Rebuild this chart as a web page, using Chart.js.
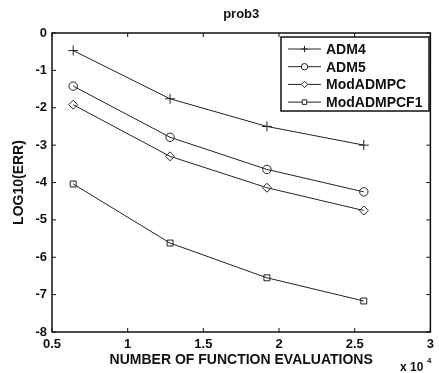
<!DOCTYPE html>
<html>
<head>
<meta charset="utf-8">
<script src="https://cdn.jsdelivr.net/npm/chart.js@4"></script>
<style>
  html, body { margin: 0; padding: 0; background: #fff; }
  #wrap { width: 439px; height: 373px; }
</style>
</head>
<body>
<div id="wrap"><canvas id="chart" width="439" height="373"></canvas></div>
<script>
// function evaluations
const evals = [6400, 12800, 19200, 25600];
const adm4 = [-0.47, -1.76, -2.5, -3.0];
const adm5 = [-1.42, -2.79, -3.65, -4.25];
const modAdmpc = [-1.92, -3.3, -4.14, -4.75];
const modAdmpcf1 = [-4.04, -5.62, -6.55, -7.17];
const xTicks = [5000, 10000, 15000, 20000, 25000, 30000];
const yTicks = [0, -1, -2, -3, -4, -5, -6, -7, -8];

const FONT = 'Liberation Sans, Arial, sans-serif';
const ink = '#222';

function series(label, ys, style, r) {
  return {
    label: label,
    data: evals.map((x, i) => ({ x: x, y: ys[i] })),
    borderColor: ink,
    borderWidth: 1,
    pointStyle: style,
    pointRadius: r,
    pointBorderColor: ink,
    pointBackgroundColor: 'rgba(0,0,0,0)',
    pointBorderWidth: 1,
    showLine: true,
    fill: false,
    tension: 0
  };
}

// frame, inward ticks, titles and legend box
const decor = {
  id: 'decor',
  afterDraw(chart) {
    const c = chart.ctx;
    const a = chart.chartArea;
    const xs = chart.scales.x, ys = chart.scales.y;
    c.save();
    c.strokeStyle = '#111';
    c.lineWidth = 1.5;
    c.strokeRect(a.left, a.top, a.right - a.left, a.bottom - a.top);
    c.lineWidth = 1;
    xTicks.forEach(v => {
      const px = xs.getPixelForValue(v);
      c.beginPath();
      c.moveTo(px, a.bottom); c.lineTo(px, a.bottom - 4);
      c.moveTo(px, a.top); c.lineTo(px, a.top + 4);
      c.stroke();
    });
    yTicks.forEach(v => {
      const py = ys.getPixelForValue(v);
      c.beginPath();
      c.moveTo(a.left, py); c.lineTo(a.left + 4, py);
      c.moveTo(a.right, py); c.lineTo(a.right - 4, py);
      c.stroke();
    });

    c.fillStyle = '#111';
    c.font = 'bold 13px ' + FONT;
    c.textAlign = 'center';
    c.textBaseline = 'middle';
    c.fillText('prob3', (a.left + a.right) / 2, 14);
    c.font = 'bold 14px ' + FONT;
    c.fillText('NUMBER OF FUNCTION EVALUATIONS', (a.left + a.right) / 2, 360);
    c.save();
    c.translate(19, (a.top + a.bottom) / 2);
    c.rotate(-Math.PI / 2);
    c.fillText('LOG10(ERR)', 0, 0);
    c.restore();
    c.textAlign = 'left';
    c.font = 'bold 12px ' + FONT;
    c.fillText('x 10', 400, 368);
    c.font = 'bold 8px ' + FONT;
    c.fillText('4', 427, 361);

    // legend
    const lx = 281, ly = 37, lw = 148, lh = 74;
    c.fillStyle = '#fff';
    c.fillRect(lx, ly, lw, lh);
    c.lineWidth = 1.5;
    c.strokeStyle = '#111';
    c.strokeRect(lx, ly, lw, lh);
    c.lineWidth = 1;
    chart.data.datasets.forEach((ds, i) => {
      const yy = 49 + i * 17.7;
      c.strokeStyle = ink;
      c.beginPath();
      c.moveTo(288, yy); c.lineTo(321, yy);
      c.stroke();
      c.fillStyle = '#fff';
      Chart.helpers.drawPoint(c, {
        pointStyle: ds.pointStyle, radius: 3.2, borderWidth: 1, rotation: 0
      }, 304.5, yy);
      c.fillStyle = '#111';
      c.font = 'bold 14px ' + FONT;
      c.textAlign = 'left';
      c.fillText(ds.label, 326, yy + 1);
    });
    c.restore();
  }
};

new Chart(document.getElementById('chart'), {
  type: 'scatter',
  data: {
    datasets: [
      series('ADM4', adm4, 'cross', 5),
      series('ADM5', adm5, 'circle', 4.2),
      series('ModADMPC', modAdmpc, 'rectRot', 4.5),
      series('ModADMPCF1', modAdmpcf1, 'rect', 4.2)
    ]
  },
  options: {
    responsive: false,
    animation: false,
    layout: { padding: { left: 0, top: 33, right: 7, bottom: 0 } },
    plugins: { legend: { display: false }, title: { display: false }, tooltip: { enabled: false } },
    scales: {
      x: {
        type: 'linear',
        min: 5000, max: 30000,
        afterFit: s => { s.height = 41; },
        afterBuildTicks: s => { s.ticks = xTicks.map(v => ({ value: v })); },
        grid: { display: false, drawTicks: false },
        border: { display: false },
        ticks: {
          color: '#111', padding: 5,
          font: { family: FONT, size: 13, weight: 'bold' },
          maxRotation: 0,
          callback: v => String(v / 10000)
        }
      },
      y: {
        min: -8, max: 0,
        afterFit: s => { s.width = 52; },
        afterBuildTicks: s => { s.ticks = yTicks.map(v => ({ value: v })); },
        grid: { display: false, drawTicks: false },
        border: { display: false },
        ticks: {
          color: '#111', padding: 5,
          font: { family: FONT, size: 13, weight: 'bold' },
          callback: v => String(v)
        }
      }
    }
  },
  plugins: [decor]
});
</script>
</body>
</html>
